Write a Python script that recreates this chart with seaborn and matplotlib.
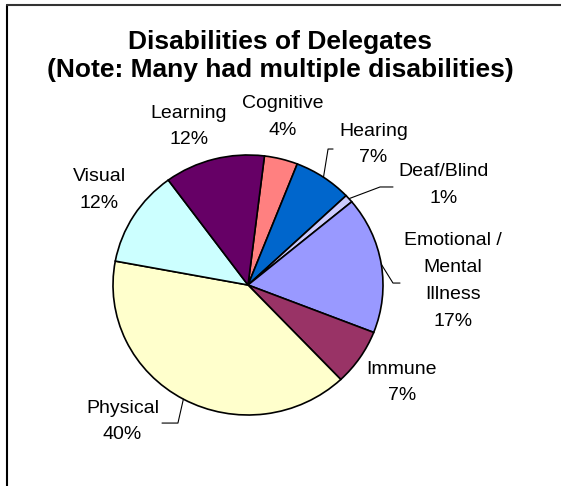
import numpy as np
import seaborn as sns
import matplotlib.pyplot as plt
from matplotlib.lines import Line2D

# data, clockwise from the top
labels = ["Cognitive", "Hearing", "Deaf/Blind", "Emotional /\nMental\nIllness",
          "Immune", "Physical", "Visual", "Learning"]
pcts = [4, 7, 1, 17, 7, 40, 12, 12]
colors = ["#FF8080", "#0066CC", "#CCCCFF", "#9999FF",
          "#993366", "#FFFFCC", "#CCFFFF", "#660066"]

# label centres in pie units (x: /135 px, y: /130 px from centre)
label_pos = {
    "Cognitive": (0.26, 1.29),
    "Hearing": (0.93, 1.08),
    "Deaf/Blind": (1.45, 0.77),
    "Emotional /\nMental\nIllness": (1.52, 0.03),
    "Immune": (1.14, -0.75),
    "Physical": (-0.93, -1.05),
    "Visual": (-1.10, 0.73),
    "Learning": (-0.44, 1.22),
}
# leader lines: elbow and end points
leaders = {
    "Hearing": [(0.593, 1.046), (0.63, 1.046)],
    "Deaf/Blind": [(0.978, 0.754), (1.074, 0.754)],
    "Emotional /\nMental\nIllness": [(1.074, 0.015), (1.126, 0.015)],
    "Physical": [(-0.519, -1.062), (-0.637, -1.062)],
}

sns.set_style("white")
plt.rcParams["font.family"] = ["Liberation Sans", "DejaVu Sans"]
plt.rcParams["text.color"] = "black"

fig = plt.figure(figsize=(5.61, 4.86), dpi=100)
W, H = 561, 486
cx, cy, rx, ry = 248, 285, 135, 130
ax = fig.add_axes([(cx - rx) / W, (H - cy - ry) / H, 2 * rx / W, 2 * ry / H])

wedges, _ = ax.pie(pcts, colors=colors, startangle=83, counterclock=False,
                   wedgeprops=dict(edgecolor="black", linewidth=1.2))
ax.set_aspect("auto")
ax.set_xlim(-1, 1)
ax.set_ylim(-1, 1)
ax.axis("off")

for w, lab, p in zip(wedges, labels, pcts):
    x, y = label_pos[lab]
    ax.text(x, y, f"{lab}\n{p}%", ha="center", va="center", fontsize=14,
            linespacing=1.75, color="black", clip_on=False)
    if lab in leaders:
        mid = np.deg2rad((w.theta1 + w.theta2) / 2)
        pts = [(np.cos(mid), np.sin(mid))] + leaders[lab]
        xs, ys = zip(*pts)
        ax.plot(xs, ys, color="black", linewidth=0.8, clip_on=False)

fig.text(280 / W, 1 - 56 / H,
         "Disabilities of Delegates\n(Note: Many had multiple disabilities)",
         ha="center", va="center", fontsize=19, fontweight="bold",
         linespacing=1.25, color="black")

# chart border (left and top edges visible)
fig.add_artist(Line2D([7 / W, 7 / W], [0, 1 - 5 / H], color="black",
                      linewidth=1.5, transform=fig.transFigure))
fig.add_artist(Line2D([7 / W, 1], [1 - 5 / H, 1 - 5 / H], color="#333333",
                      linewidth=1.5, transform=fig.transFigure))

fig.savefig("out.png", dpi=100, facecolor="white")
